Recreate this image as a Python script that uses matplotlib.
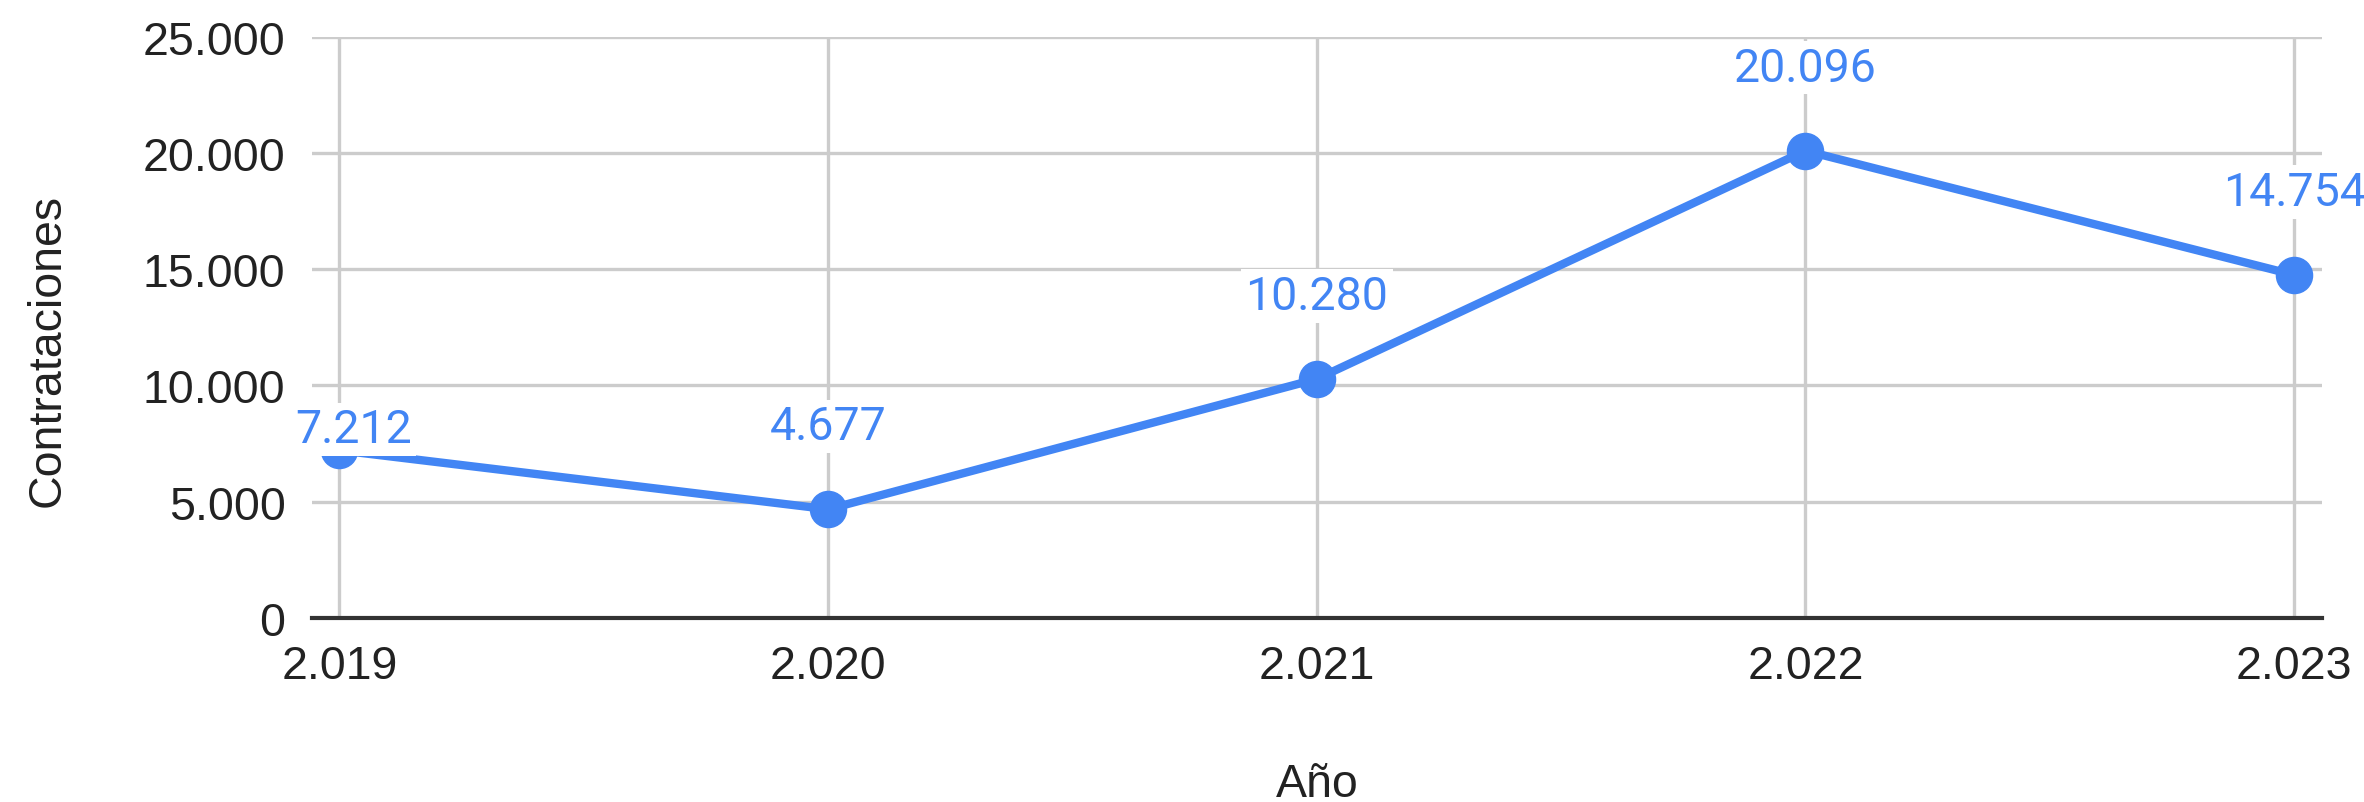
import matplotlib
matplotlib.use('Agg')
import matplotlib.pyplot as plt

# datos del grafico
years = [2019, 2020, 2021, 2022, 2023]
year_labels = ['2.019', '2.020', '2.021', '2.022', '2.023']
contrataciones = [7212, 4677, 10280, 20096, 14754]
value_labels = ['7.212', '4.677', '10.280', '20.096', '14.754']
y_ticks = [0, 5000, 10000, 15000, 20000, 25000]
y_tick_labels = ['0', '5.000', '10.000', '15.000', '20.000', '25.000']

plt.rcParams['font.family'] = ['Liberation Sans', 'DejaVu Sans']

W, H = 2364, 803
fig = plt.figure(figsize=(W / 100, H / 100), dpi=100)
ax = fig.add_axes([312 / W, (H - 619) / H, (2322 - 312) / W, (619 - 37.7) / H])

blue = '#4285F4'
ax.plot(years, contrataciones, color=blue, lw=6, marker='o', ms=26,
        zorder=3, solid_capstyle='round')

ax.set_xlim(2019 - 0.056, 2023 + 0.057)
ax.set_ylim(0, 25000)
ax.set_xticks(years, year_labels)
ax.set_yticks(y_ticks, y_tick_labels)
ax.tick_params(length=0, labelsize=33.5, colors='#222222', pad=19)
ax.set_axisbelow(True)
ax.grid(color='#cccccc', lw=2.4)
for s in ['top', 'right', 'left']:
    ax.spines[s].set_visible(False)
ax.spines['bottom'].set_color('#333333')
ax.spines['bottom'].set_linewidth(3)

# desplazamiento de las etiquetas (px)
label_offsets = [(14, 8), (0, 70), (0, 70), (0, 70), (0, 70)]
for x, y, lbl, (dx, dy) in zip(years, contrataciones, value_labels, label_offsets):
    ax.annotate(lbl, (x, y), xytext=(dx * 0.72, dy * 0.72), textcoords='offset points',
                ha='center', va='baseline', fontsize=33.5, family=['Roboto', 'DejaVu Sans'],
                color=blue, zorder=4, annotation_clip=False,
                bbox=dict(boxstyle='square,pad=0.1', fc='white', ec='none'))

fig.text(1317 / W, 6 / H, 'Año', ha='center', va='baseline', fontsize=33.5, color='#222222')
fig.text(48 / W, (H - 351) / H, 'Contrataciones', rotation=90, ha='center', va='center',
         fontsize=33.5, color='#222222')

fig.savefig('out.png', dpi=100)
